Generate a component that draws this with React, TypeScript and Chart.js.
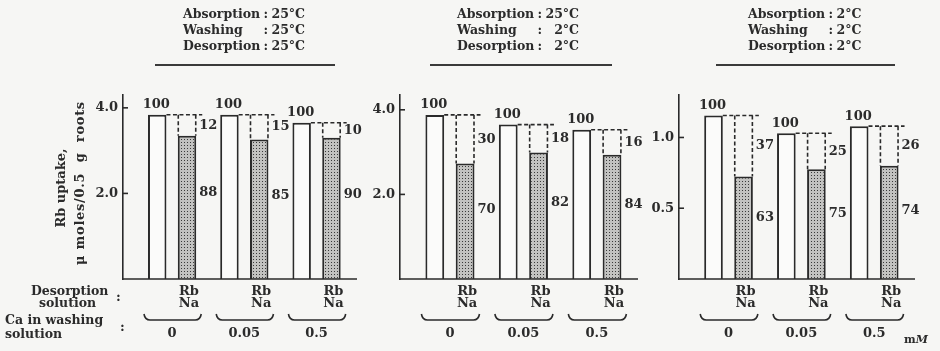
import React, { useEffect, useRef } from 'react';
import { Chart, registerables } from 'chart.js';

Chart.register(...registerables);

// ---- data ----
const CA_LABELS = ['0', '0.05', '0.5'];
const DESORPTION_LABELS = ['Rb', 'Na'];
const TOTAL_PCT = '100';

// Absorption 25 / Washing 25 / Desorption 25 °C
const P1_TOTAL = [3.84, 3.84, 3.65];
const P1_REMAIN = [3.35, 3.26, 3.3];
const P1_PCT_REMOVED = [12, 15, 10];
const P1_PCT_REMAIN = [88, 85, 90];
const P1_HEADER = [
  ['Absorption', '25°C'],
  ['Washing', '25°C'],
  ['Desorption', '25°C'],
];

// Absorption 25 / Washing 2 / Desorption 2 °C
const P2_TOTAL = [3.88, 3.65, 3.53];
const P2_REMAIN = [2.73, 2.99, 2.94];
const P2_PCT_REMOVED = [30, 18, 16];
const P2_PCT_REMAIN = [70, 82, 84];
const P2_HEADER = [
  ['Absorption', '25°C'],
  ['Washing', '2°C'],
  ['Desorption', '2°C'],
];

// Absorption 2 / Washing 2 / Desorption 2 °C
const P3_TOTAL = [1.155, 1.03, 1.08];
const P3_REMAIN = [0.725, 0.775, 0.8];
const P3_PCT_REMOVED = [37, 25, 26];
const P3_PCT_REMAIN = [63, 75, 74];
const P3_HEADER = [
  ['Absorption', '2°C'],
  ['Washing', '2°C'],
  ['Desorption', '2°C'],
];

const Y_TICKS_A = [2.0, 4.0];
const Y_TICKS_B = [0.5, 1.0];

const Y_TITLE = ['Rb uptake,', 'μ moles/0.5  g  roots'];
const ROW_LABEL_1 = ['Desorption', 'solution'];
const ROW_LABEL_2 = ['Ca in washing', 'solution'];

// ---- layout / style ----
const INK = '#2a2a2a';
const TXT = '#2b2b2b';
const BG = '#f6f6f4';
const FONT = '"DejaVu Serif", "Liberation Serif", serif';
const F13 = `bold 13px ${FONT}`;

const PANELS = [
  { left: 0, width: 362, padL: 83, padR: 5, axisW: 40, yMax: 4.3, ticks: Y_TICKS_A,
    total: P1_TOTAL, remain: P1_REMAIN, pTop: P1_PCT_REMOVED, pBot: P1_PCT_REMAIN,
    header: P1_HEADER, headerX: 183, rule: [155, 335], extra: 'left' },
  { left: 362, width: 283, padL: 5, padR: 7, axisW: 33, yMax: 4.35, ticks: Y_TICKS_A,
    total: P2_TOTAL, remain: P2_REMAIN, pTop: P2_PCT_REMOVED, pBot: P2_PCT_REMAIN,
    header: P2_HEADER, headerX: 457, rule: [430, 612], extra: '' },
  { left: 645, width: 295, padL: 4, padR: 25, axisW: 30, yMax: 1.3, ticks: Y_TICKS_B,
    total: P3_TOTAL, remain: P3_REMAIN, pTop: P3_PCT_REMOVED, pBot: P3_PCT_REMAIN,
    header: P3_HEADER, headerX: 748, rule: [716, 895], extra: 'unit' },
];

function decor(p: any) {
  return {
    id: 'decor',
    afterDraw(chart: any) {
      const ctx: CanvasRenderingContext2D = chart.ctx;
      const ox = p.left;
      const ys = chart.scales.y;
      const area = chart.chartArea;
      const mW = chart.getDatasetMeta(0);
      const mS = chart.getDatasetMeta(1);
      const line = (x1: number, y1: number, x2: number, y2: number) => {
        ctx.beginPath();
        ctx.moveTo(x1, y1);
        ctx.lineTo(x2, y2);
        ctx.stroke();
      };
      const text = (s: string, x: number, y: number, align: CanvasTextAlign = 'center', font = F13) => {
        ctx.font = font;
        ctx.textAlign = align;
        ctx.textBaseline = 'middle';
        ctx.fillText(s, x, y);
      };
      ctx.save();
      ctx.strokeStyle = INK;
      ctx.fillStyle = TXT;
      ctx.lineWidth = 1.6;
      const y0 = ys.getPixelForValue(0);
      line(area.left - 0.75, y0, area.right, y0);
      p.ticks.forEach((v: number) => {
        const py = ys.getPixelForValue(v);
        line(area.left, py, area.left + 5, py);
      });

      p.total.forEach((_: number, i: number) => {
        const w = mW.data[i];
        const s = mS.data[i];
        const wh = w.width / 2;
        const sh = s.width / 2;
        const topW = w.y;
        const topS = s.y;
        text(TOTAL_PCT, w.x - 1, topW - 10);
        ctx.lineWidth = 1.6;
        ctx.setLineDash([4, 2.5]);
        line(w.x + wh, topW, s.x + sh + 6, topW);
        line(s.x - sh + 0.5, topW, s.x - sh + 0.5, topS);
        line(s.x + sh - 0.5, topW, s.x + sh - 0.5, topS);
        ctx.setLineDash([]);
        text(String(p.pTop[i]), s.x + sh + 3, (topW + topS) / 2, 'left');
        text(String(p.pBot[i]), s.x + sh + 3, ys.getPixelForValue(p.remain[i] * 0.6), 'left');
        text(DESORPTION_LABELS[0], s.x + 2, y0 + 13);
        text(DESORPTION_LABELS[1], s.x + 2, y0 + 25);
        const bx0 = w.x - wh - 4;
        const bx1 = s.x + sh + 5;
        const by = y0 + 41;
        ctx.beginPath();
        ctx.moveTo(bx0, by - 6);
        ctx.quadraticCurveTo(bx0 + 1, by, bx0 + 6, by);
        ctx.lineTo(bx1 - 6, by);
        ctx.quadraticCurveTo(bx1 - 1, by, bx1, by - 6);
        ctx.stroke();
        text(CA_LABELS[i], (w.x + s.x) / 2, y0 + 55);
      });

      // header block
      const HF = `bold 12.5px ${FONT}`;
      ctx.font = HF;
      const x0 = p.headerX - ox;
      const labW = Math.max(...p.header.map((h: string[]) => ctx.measureText(h[0]).width));
      const valW = Math.max(...p.header.map((h: string[]) => ctx.measureText(h[1]).width));
      const colonX = x0 + labW + 3;
      const endX = colonX + 8 + valW;
      p.header.forEach((h: string[], k: number) => {
        const hy = 15 + k * 16;
        text(h[0], x0, hy, 'left', HF);
        text(':', colonX, hy, 'left', HF);
        text(h[1], endX, hy, 'right', HF);
      });
      ctx.lineWidth = 1.8;
      ctx.strokeStyle = '#3a3a3a';
      line(p.rule[0] - ox, 65, p.rule[1] - ox, 65);

      if (p.extra === 'left') {
        ctx.save();
        ctx.translate(62, 188);
        ctx.rotate(-Math.PI / 2);
        text(Y_TITLE[0], 0, 0);
        ctx.restore();
        ctx.save();
        ctx.translate(81, 183);
        ctx.rotate(-Math.PI / 2);
        (ctx as any).letterSpacing = '0.7px';
        text(Y_TITLE[1], 0, 0);
        (ctx as any).letterSpacing = '0px';
        ctx.restore();
        text(ROW_LABEL_1[0], 31, y0 + 13, 'left', `bold 12.5px ${FONT}`);
        text(ROW_LABEL_1[1], 39, y0 + 25, 'left', `bold 12.5px ${FONT}`);
        text(':', 116, y0 + 19, 'left');
        text(ROW_LABEL_2[0], 5, y0 + 42, 'left', `bold 12.5px ${FONT}`);
        text(ROW_LABEL_2[1], 5, y0 + 56, 'left', `bold 12.5px ${FONT}`);
        text(':', 120, y0 + 49, 'left');
      }
      if (p.extra === 'unit') {
        const ux = 904 - ox;
        ctx.font = `bold 11px ${FONT}`;
        const mw = ctx.measureText('m').width;
        text('m', ux, y0 + 61, 'left', `bold 11px ${FONT}`);
        text('M', ux + mw, y0 + 61, 'left', `italic bold 11px ${FONT}`);
      }
      ctx.restore();
    },
  };
}

export default function App() {
  const r0 = useRef<HTMLCanvasElement>(null);
  const r1 = useRef<HTMLCanvasElement>(null);
  const r2 = useRef<HTMLCanvasElement>(null);
  const refs = [r0, r1, r2];

  useEffect(() => {
    const tile = document.createElement('canvas');
    tile.width = 3;
    tile.height = 3;
    const tctx = tile.getContext('2d')!;
    tctx.fillStyle = '#c2c2c0';
    tctx.fillRect(0, 0, 3, 3);
    tctx.fillStyle = '#3a3a3a';
    tctx.fillRect(1, 1, 1, 1);

    const charts = PANELS.map((p, k) => {
      const canvas = refs[k].current!;
      const pattern = canvas.getContext('2d')!.createPattern(tile, 'repeat')!;
      return new Chart(canvas, {
        type: 'bar',
        data: {
          datasets: [
            {
              data: p.total.map((v, i) => ({ x: i, y: v })),
              backgroundColor: '#fbfbfa',
              borderColor: INK,
              borderWidth: 2,
              categoryPercentage: 0.825,
              barPercentage: 0.62,
            },
            {
              data: p.remain.map((v, i) => ({ x: i, y: v })),
              backgroundColor: pattern,
              borderColor: INK,
              borderWidth: 2,
              categoryPercentage: 0.825,
              barPercentage: 0.62,
            },
          ],
        } as any,
        options: {
          animation: false,
          responsive: false,
          events: [],
          layout: { padding: { left: p.padL, right: p.padR, top: 95, bottom: 72 } },
          plugins: { legend: { display: false }, tooltip: { enabled: false } },
          scales: {
            x: {
              type: 'linear',
              min: -0.68,
              max: 2.56,
              display: false,
              offset: false,
              afterBuildTicks: (s: any) => {
                s.ticks = CA_LABELS.map((_, i) => ({ value: i }));
              },
            },
            y: {
              min: 0,
              max: p.yMax,
              afterBuildTicks: (s: any) => {
                s.ticks = p.ticks.map((v) => ({ value: v }));
              },
              afterFit: (s: any) => {
                s.width = p.axisW;
              },
              grid: { drawOnChartArea: false, drawTicks: false },
              border: { color: INK, width: 1.6 },
              ticks: {
                color: TXT,
                padding: 5,
                font: { family: FONT, weight: 'bold', size: 13 },
                callback: (v: any) => Number(v).toFixed(1),
              },
            },
          },
        } as any,
        plugins: [decor(p)],
      });
    });
    return () => charts.forEach((c) => c.destroy());
  }, []);

  return (
    <div style={{ position: 'absolute', left: 0, top: 0, width: 940, height: 351, background: BG, overflow: 'hidden' }}>
      {PANELS.map((p, k) => (
        <canvas
          key={k}
          ref={refs[k]}
          width={p.width}
          height={351}
          style={{ position: 'absolute', left: p.left, top: 0, width: p.width, height: 351 }}
        />
      ))}
    </div>
  );
}
